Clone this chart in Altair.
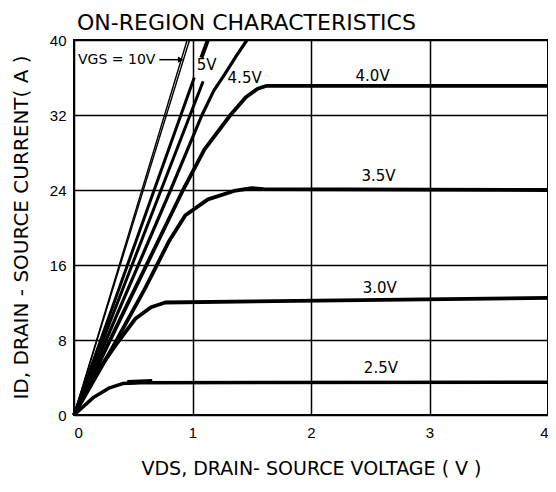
import altair as alt
import pandas as pd

# ---- data (VDS in volts, ID in amps) ----
v10_x = [0, 0.955];  v10_y = [0, 40]
v10b_x = [0, 0.975]; v10b_y = [0, 40]
v6a_x = [0, 1.015];  v6a_y = [0, 36.0]
v6b_x = [1.075, 1.13]; v6b_y = [38.1, 40]
v5_x = [0, 1.09];    v5_y = [0, 35.6]
v45_x = [0, 0.4, 0.815, 1.08, 1.18, 1.27, 1.37, 1.46]
v45_y = [0, 11.8, 24.0, 32.0, 34.6, 36.3, 38.3, 40]
v40_x = [0, 0.4, 0.92, 1.1, 1.32, 1.45, 1.55, 1.62, 4]
v40_y = [0, 10.5, 24.0, 28.3, 32.0, 33.9, 34.8, 35.1, 35.1]
v35_x = [0, 0.33, 0.6, 0.8, 0.94, 1.13, 1.35, 1.5, 1.6, 4]
v35_y = [0, 7.3, 13.5, 18.5, 21.3, 23.0, 23.9, 24.2, 24.1, 24.0]
v30_x = [0, 0.15, 0.355, 0.52, 0.65, 0.77, 4]
v30_y = [0, 3.8, 7.5, 10.3, 11.5, 12.0, 12.5]
v25_x = [0, 0.16, 0.3, 0.41, 0.55, 4]
v25_y = [0, 1.83, 2.9, 3.35, 3.45, 3.5]
v25s_x = [0.45, 0.66]; v25s_y = [3.5, 3.6]

label_text = ["VGS = 10V", "5V", "4.5V", "4.0V", "3.5V", "3.0V", "2.5V"]
label_x = [0.034, 1.12, 1.44, 2.52, 2.57, 2.58, 2.59]
label_y = [37.9, 37.3, 36.0, 36.2, 25.5, 13.6, 5.0]
label_align = ["left", "center", "center", "center", "center", "center", "center"]

arrow_x = [0.72]; arrow_x2 = [0.9]; arrow_y = [37.9]

series = [
    ("10V", v10_x, v10_y, 1.4),
    ("10Vb", v10b_x, v10b_y, 1.4),
    ("6Va", v6a_x, v6a_y, 3),
    ("6Vb", v6b_x, v6b_y, 4),
    ("5V", v5_x, v5_y, 3),
    ("4.5V", v45_x, v45_y, 3.2),
    ("4.0V", v40_x, v40_y, 3.8),
    ("3.5V", v35_x, v35_y, 3.8),
    ("3.0V", v30_x, v30_y, 3.8),
    ("2.5V", v25_x, v25_y, 3.5),
    ("2.5Vs", v25s_x, v25s_y, 4.5),
]
rows = []
for name, xs, ys, w in series:
    for i, (a, b) in enumerate(zip(xs, ys)):
        rows.append({"seg": name, "i": i, "vds": a, "id": b, "w": w})
curves = pd.DataFrame(rows)

labels = pd.DataFrame({"t": label_text, "x": label_x, "y": label_y, "al": label_align})
arrow = pd.DataFrame({"x": arrow_x, "x2": arrow_x2, "y": arrow_y})

FONT = "Liberation Sans"
TFONT = "DejaVu Sans"

xscale = alt.Scale(domain=[0, 4], nice=False)
yscale = alt.Scale(domain=[0, 40], nice=False)

xaxis = alt.Axis(
    title="VDS, DRAIN- SOURCE VOLTAGE ( V )", values=[0, 1, 2, 3, 4], format="d",
    titleX=237, titleY=53, titleBaseline="middle", titleAlign="center",
    titleFontSize=19, titleFontWeight="normal", labelPadding=10,
)
yaxis = alt.Axis(
    title="ID, DRAIN - SOURCE CURRENT( A )", values=[0, 8, 16, 24, 32, 40], format="d",
    titleX=-53, titleY=187, titleAngle=-90, titleBaseline="middle", titleAlign="center",
    titleFontSize=20, titleFontWeight="normal", labelPadding=8,
)

lines = alt.Chart(curves).mark_line(color="black", strokeCap="butt", strokeJoin="round").encode(
    x=alt.X("vds:Q", scale=xscale, axis=xaxis),
    y=alt.Y("id:Q", scale=yscale, axis=yaxis),
    detail="seg:N",
    order="i:Q",
    strokeWidth=alt.StrokeWidth("w:Q", scale=None),
)

text_left = alt.Chart(labels).transform_filter(alt.datum.al == "left").mark_text(
    font=TFONT, fontSize=14, color="black", align="left", baseline="middle"
).encode(x="x:Q", y="y:Q", text="t:N")
text_center = alt.Chart(labels).transform_filter(alt.datum.al == "center").mark_text(
    font=TFONT, fontSize=15, color="black", align="center", baseline="middle"
).encode(x="x:Q", y="y:Q", text="t:N")

arrow_rule = alt.Chart(arrow).mark_rule(color="black", strokeWidth=1.5).encode(
    x="x:Q", x2="x2:Q", y="y:Q"
)
arrow_head = alt.Chart(arrow).mark_point(
    shape="triangle-right", filled=True, color="black", size=40, opacity=1
).encode(x="x2:Q", y="y:Q")

chart = alt.layer(lines, arrow_rule, arrow_head, text_left, text_center).properties(
    width=474, height=375,
    title=alt.TitleParams(
        "ON-REGION CHARACTERISTICS", anchor="start", frame="group", font=TFONT,
        fontSize=22, fontWeight="normal", color="black", offset=-2, dx=3,
    ),
    autosize=alt.AutoSizeParams(type="none"),
    padding={"left": 66, "top": 32, "right": 0, "bottom": 72},
).configure_view(
    stroke="black", strokeWidth=2
).configure_axis(
    grid=True, gridColor="black", gridWidth=1.5, gridOpacity=1,
    domain=False, ticks=False,
    labelFont=FONT, labelFontSize=15, labelColor="black",
    titleFont=TFONT, titleColor="black",
)

chart.save("out.html", embed_options={"renderer": "svg", "actions": False})
